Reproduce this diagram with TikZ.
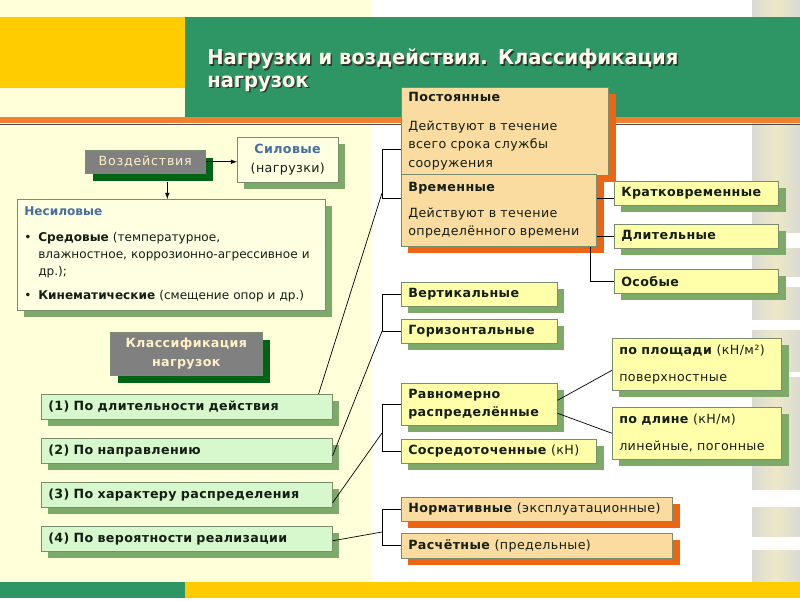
\documentclass[tikz,border=0pt]{standalone}
\usepackage{fontspec}
\setmainfont{DejaVu Sans}
\newfontfamily\titlefont[FakeStretch=0.95]{DejaVu Sans}
\newfontfamily\boxfont[LetterSpace=3]{DejaVu Sans}
\newfontfamily\wideboxfont[LetterSpace=6]{DejaVu Sans}
\usetikzlibrary{shadows}

\definecolor{hdrgreen}{RGB}{46,150,100}
\definecolor{hdryellow}{RGB}{255,204,0}
\definecolor{hdrorange}{RGB}{238,128,48}
\definecolor{shgreen}{RGB}{125,170,105}
\definecolor{shdark}{RGB}{0,100,20}
\definecolor{shorange}{RGB}{236,100,20}
\definecolor{boxgray}{RGB}{128,128,128}
\definecolor{cream}{RGB}{255,240,200}
\definecolor{mint}{RGB}{215,247,205}
\definecolor{lemon}{RGB}{255,255,170}
\definecolor{wheat}{RGB}{250,220,160}
\definecolor{paleyel}{RGB}{255,255,225}
\definecolor{boxline}{RGB}{120,140,110}
\definecolor{headblue}{RGB}{70,110,160}
\definecolor{textdark}{RGB}{20,30,20}
\definecolor{leftyel}{RGB}{255,255,178}
\definecolor{leftpale}{RGB}{255,255,218}
\definecolor{titlewhite}{RGB}{255,255,235}
\definecolor{colgray}{RGB}{218,218,210}
\definecolor{colyel}{RGB}{238,232,200}

\newcommand{\bodyfont}{\boxfont\fontsize{9}{13.2}\selectfont}
\newcommand{\nesfont}{\fontsize{8.6}{12.2}\selectfont}

\begin{document}
\begin{tikzpicture}[x=0.025cm,y=-0.025cm,
	box/.style={draw=boxline,line width=0.4pt,anchor=north west,inner xsep=0.175cm,inner ysep=0.05cm,align=left,font=\bodyfont,text=textdark},
	boxsize/.code 2 args={\pgfmathsetmacro\bw{(#1-14)*0.025}\pgfmathsetmacro\bh{#2*0.025}\tikzset{text width=\bw cm,minimum height=\bh cm}},
	gshadow/.style={general shadow={fill=shgreen,draw=none,shadow xshift=0.18cm,shadow yshift=-0.18cm}},
	oshadow/.style={general shadow={fill=shorange,draw=none,shadow xshift=0.18cm,shadow yshift=-0.18cm}},
	dshadow/.style={general shadow={fill=shdark,draw=none,shadow xshift=0.2cm,shadow yshift=-0.2cm}},
	gray box/.style={box,fill=boxgray,text=cream,align=center,dshadow},
	pale box/.style={box,fill=paleyel,gshadow},
	mint box/.style={box,fill=mint,gshadow,font=\bodyfont\bfseries},
	lemon box/.style={box,fill=lemon,gshadow},
	wheat box/.style={box,fill=wheat,oshadow},
	titletext/.style={anchor=north west,inner sep=0pt,align=left,text width=15cm,font=\titlefont\bfseries\fontsize{14.6}{15.8}\selectfont},
	link/.style={draw,line width=0.5pt}
	]

	% background
	\useasboundingbox (0,0) rectangle (800,600);
	\fill[white] (0,0) rectangle (800,600);
	\shade[left color=leftpale,middle color=leftyel,right color=leftpale] (0,0) rectangle (372,582);
	\shade[left color=colgray,right color=colyel] (752,0) rectangle (776,582);
	\shade[left color=colyel,right color=colgray] (776,0) rectangle (800,582);
	\foreach \gy/\gh in {233/15,277/10,320/10,372/5,490/17,537/13}
		\fill[white] (752,\gy) rectangle (800,\gy+\gh);
	\fill[hdryellow] (0,17) rectangle (185,88);
	\fill[hdrgreen] (185,17) rectangle (800,117);
	\fill[hdrorange] (0,117) rectangle (800,123);
	\draw[black!70,line width=0.5pt] (0,124) -- (800,124);
	\fill[hdrgreen] (0,582) rectangle (185,598);
	\fill[hdryellow] (185,582) rectangle (800,598);

	% title
	\node[titletext,text=black!80] (titleshadow) at (208.5,50.5) {Нагрузки и воздействия. Классификация\\нагрузок};
	\node[titletext,text=titlewhite] (title) at (207,49) {Нагрузки и воздействия. Классификация\\нагрузок};

	% left column
	\node[gray box,boxsize={120}{23},font=\wideboxfont\fontsize{9}{13.2}\selectfont] (vozd) at (85,150) {Воздействия};
	\node[pale box,boxsize={101}{45},align=center] (silovye) at (237,137) {\textcolor{headblue}{\textbf{Силовые}}\\(нагрузки)};
	\node[pale box,boxsize={308}{111},font=\nesfont] (nesilovye) at (17,199) {\textcolor{headblue}{\textbf{Несиловые}}\\[6pt]
		\makebox[0.35cm][l]{•}\textbf{Средовые} (температурное,\\
		\hspace*{0.35cm}влажностное, коррозионно-агрессивное и\\
		\hspace*{0.35cm}др.);\\[5pt]
		\makebox[0.35cm][l]{•}\textbf{Кинематические} (смещение опор и др.)};
	\node[gray box,boxsize={152}{43},font=\bodyfont\bfseries] (klass) at (110,332) {Классификация\\нагрузок};

	\node[mint box,boxsize={291}{25}] (po1) at (41,394) {(1) По длительности действия};
	\node[mint box,boxsize={291}{25}] (po2) at (41,438) {(2) По направлению};
	\node[mint box,boxsize={291}{25}] (po3) at (41,482) {(3) По характеру распределения};
	\node[mint box,boxsize={291}{25}] (po4) at (41,526) {(4) По вероятности реализации};

	\draw[link,-latex] (vozd.east) -- (vozd.east -| silovye.west);
	\draw[link,-latex] ([xshift=0.55cm,yshift=-0.2cm]vozd.south) -- ([xshift=0.55cm]vozd.south |- nesilovye.north);

	% by duration
	\coordinate (b1top) at (382,149);
	\coordinate (b1bot) at (382,198);
	\coordinate (b1join) at (382,193);
	\draw[link] (401,149) -- (b1top) -- (b1bot) -- (401,198);
	\draw[link] ([xshift=-0.35cm]po1.north east) -- (b1join);

	\node[wheat box,boxsize={207}{88}] (postoyan) at (401,87) {\textbf{Постоянные}\\[7pt]Действуют в течение\\всего срока службы\\сооружения};
	\node[wheat box,boxsize={195}{72}] (vremen) at (401,174) {\textbf{Временные}\\[5pt]Действуют в течение\\определённого времени};

	\node[lemon box,boxsize={164}{24},font=\bodyfont\bfseries] (kratk) at (614,181) {Кратковременные};
	\node[lemon box,boxsize={164}{24},font=\bodyfont\bfseries] (dlit) at (614,224) {Длительные};
	\node[lemon box,boxsize={164}{24},font=\bodyfont\bfseries] (osob) at (614,269) {Особые};
	\draw[link] ([yshift=-0.125cm]vremen.east |- kratk.west) -- ([yshift=-0.125cm]kratk.west);
	\draw[link] (vremen.east |- dlit.west) -- (dlit.west);
	\draw[link] ([xshift=-0.15cm]vremen.south east) |- (osob.west);

	% by direction
	\node[lemon box,boxsize={156}{24},font=\bodyfont\bfseries] (vert) at (401,282) {Вертикальные};
	\node[lemon box,boxsize={156}{24},font=\bodyfont\bfseries] (goriz) at (401,319) {Горизонтальные};
	\coordinate (b2) at ([xshift=-0.475cm]goriz.west);
	\draw[link] (vert.west) -- ++(-19,0) |- (goriz.west);
	\draw[link] ([yshift=-0.125cm]po2.east) -- (b2);

	% by distribution
	\node[lemon box,boxsize={156}{42},font=\bodyfont\bfseries] (ravnom) at (401,383) {Равномерно\\распределённые};
	\node[lemon box,boxsize={195}{24}] (sosred) at (401,439) {\textbf{Сосредоточенные} (кН)};
	\coordinate (b3) at (382,433);
	\draw[link] (ravnom.west) -- ++(-19,0) |- (sosred.west);
	\draw[link] ([yshift=-0.2cm]po3.east) -- (b3);

	\node[lemon box,boxsize={169}{52}] (ploshch) at (612,338) {\textbf{по площади} (кН/м²)\\[6pt]поверхностные};
	\node[lemon box,boxsize={169}{52}] (dlina) at (612,407) {\textbf{по длине} (кН/м)\\[6pt]линейные, погонные};
	\draw[link] ([yshift=0.1cm]ravnom.east) -- ([yshift=-0.15cm]ploshch.west);
	\draw[link] ([yshift=-0.225cm]ravnom.east) -- (dlina.west);

	% by probability
	\node[wheat box,boxsize={271}{24}] (normat) at (401,497) {\textbf{Нормативные} (эксплуатационные)};
	\node[wheat box,boxsize={271}{25}] (raschet) at (401,533) {\textbf{Расчётные} (предельные)};
	\coordinate (b4) at (382,532);
	\draw[link] (normat.west) -- ++(-19,0) |- (raschet.west);
	\draw[link] ([yshift=-0.05cm]po4.east) -- (b4);
\end{tikzpicture}
\end{document}
